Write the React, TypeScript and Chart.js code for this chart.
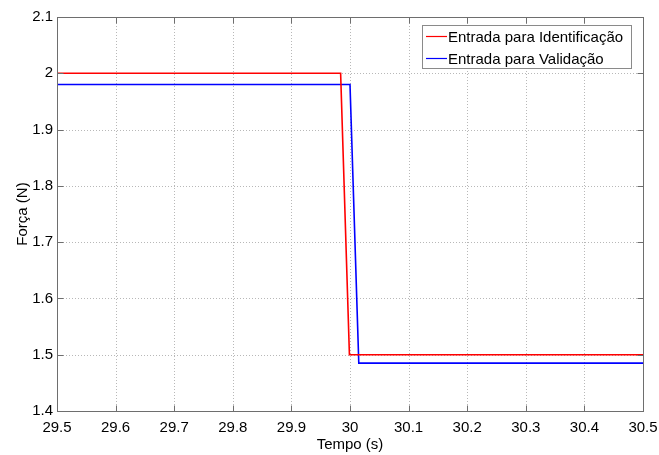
import React, { useEffect, useRef } from "react";
import { Chart, registerables } from "chart.js";

Chart.register(...registerables);

// Input force signals around the step at t = 30 s
const idTimes = [29.5, 29.984, 29.999, 30.5];
const idForces = [2.0, 2.0, 1.5, 1.5];

const valTimes = [29.5, 30.0, 30.015, 30.5];
const valForces = [1.98, 1.98, 1.485, 1.485];

const seriesLabels = ["Entrada para Identificação", "Entrada para Validação"];
const seriesColors = ["#ff0000", "#0000ff"];

const xTicks = [29.5, 29.6, 29.7, 29.8, 29.9, 30.0, 30.1, 30.2, 30.3, 30.4, 30.5];
const yTicks = [1.4, 1.5, 1.6, 1.7, 1.8, 1.9, 2.0, 2.1];

const FONT = "'Liberation Sans', Arial, Helvetica, sans-serif";

const toPoints = (xs: number[], ys: number[]) => xs.map((x, i) => ({ x, y: ys[i] }));

// Dotted grid, frame with inward ticks, and a boxed legend in the upper-right corner
const framePlugin = {
  id: "frame",
  beforeDatasetsDraw(chart: any) {
    const { ctx, chartArea: a, scales } = chart;
    const xs = scales.x;
    const ys = scales.y;
    ctx.save();
    ctx.lineWidth = 1;
    ctx.strokeStyle = "#b8b8b8";
    ctx.setLineDash([1, 2]);
    xTicks.forEach((v) => {
      const px = Math.round(xs.getPixelForValue(v)) + 0.5;
      if (px <= a.left + 1 || px >= a.right - 1) return;
      ctx.beginPath();
      ctx.moveTo(px, a.top);
      ctx.lineTo(px, a.bottom);
      ctx.stroke();
    });
    yTicks.forEach((v) => {
      const py = Math.round(ys.getPixelForValue(v)) + 0.5;
      if (py <= a.top + 1 || py >= a.bottom - 1) return;
      ctx.beginPath();
      ctx.moveTo(a.left, py);
      ctx.lineTo(a.right, py);
      ctx.stroke();
    });
    ctx.setLineDash([]);
    ctx.restore();
  },
  afterDatasetsDraw(chart: any) {
    const { ctx, chartArea: a, scales } = chart;
    const xs = scales.x;
    const ys = scales.y;
    const L = Math.round(a.left) + 0.5;
    const R = Math.round(a.right) + 0.5;
    const T = Math.round(a.top) + 0.5;
    const B = Math.round(a.bottom) + 0.5;
    ctx.save();
    ctx.lineWidth = 1;
    ctx.strokeStyle = "#6e6e6e";
    ctx.strokeRect(L, T, R - L, B - T);
    const tl = 6;
    ctx.beginPath();
    xTicks.forEach((v) => {
      const px = Math.round(xs.getPixelForValue(v)) + 0.5;
      ctx.moveTo(px, B);
      ctx.lineTo(px, B - tl);
      ctx.moveTo(px, T);
      ctx.lineTo(px, T + tl);
    });
    yTicks.forEach((v) => {
      const py = Math.round(ys.getPixelForValue(v)) + 0.5;
      ctx.moveTo(L, py);
      ctx.lineTo(L + tl, py);
      ctx.moveTo(R, py);
      ctx.lineTo(R - tl, py);
    });
    ctx.stroke();

    // legend
    const bx = 422.5;
    const by = 25.5;
    const bw = 209;
    const bh = 43;
    ctx.fillStyle = "#ffffff";
    ctx.fillRect(bx, by, bw, bh);
    ctx.strokeStyle = "#8a8a8a";
    ctx.strokeRect(bx, by, bw, bh);
    ctx.font = `15px ${FONT}`;
    ctx.textBaseline = "middle";
    ctx.textAlign = "left";
    seriesLabels.forEach((label, i) => {
      const cy = 36.5 + i * 22;
      ctx.strokeStyle = seriesColors[i];
      ctx.lineWidth = 1.2;
      ctx.beginPath();
      ctx.moveTo(426, cy);
      ctx.lineTo(447, cy);
      ctx.stroke();
      ctx.fillStyle = "#000000";
      ctx.fillText(label, 448, cy + 1);
    });
    ctx.restore();
  },
};

export default function App() {
  const canvasRef = useRef<HTMLCanvasElement | null>(null);

  useEffect(() => {
    if (!canvasRef.current) return;
    const chart = new Chart(canvasRef.current, {
      type: "line",
      data: {
        datasets: [
          {
            label: seriesLabels[0],
            data: toPoints(idTimes, idForces),
            borderColor: seriesColors[0],
            borderWidth: 1.6,
            pointRadius: 0,
            tension: 0,
          },
          {
            label: seriesLabels[1],
            data: toPoints(valTimes, valForces),
            borderColor: seriesColors[1],
            borderWidth: 1.6,
            pointRadius: 0,
            tension: 0,
          },
        ],
      },
      options: {
        responsive: false,
        animation: false,
        events: [],
        layout: { padding: { left: 0, top: 17, right: 16, bottom: 0 } },
        plugins: {
          legend: { display: false },
          tooltip: { enabled: false },
        },
        scales: {
          x: {
            type: "linear",
            min: 29.5,
            max: 30.5,
            border: { display: false },
            grid: { display: false, drawTicks: false },
            afterBuildTicks: (s: any) => {
              s.ticks = xTicks.map((v) => ({ value: v }));
            },
            afterFit: (s: any) => {
              s.height = 44;
              s.paddingLeft = 0;
              s.paddingRight = 0;
            },
            ticks: {
              autoSkip: false,
              maxRotation: 0,
              padding: 8,
              color: "#000000",
              font: { family: FONT, size: 15 },
              callback: (v: any) => String(Math.round(Number(v) * 10) / 10),
            },
            title: {
              display: true,
              text: "Tempo (s)",
              color: "#000000",
              font: { family: FONT, size: 15 },
              padding: { top: 0, bottom: 1 },
            },
          },
          y: {
            type: "linear",
            min: 1.4,
            max: 2.1,
            border: { display: false },
            grid: { display: false, drawTicks: false },
            afterBuildTicks: (s: any) => {
              s.ticks = yTicks.map((v) => ({ value: v }));
            },
            afterFit: (s: any) => {
              s.width = 57;
              s.paddingTop = 0;
              s.paddingBottom = 0;
            },
            ticks: {
              autoSkip: false,
              padding: 4,
              color: "#000000",
              font: { family: FONT, size: 15 },
              callback: (v: any) => String(Math.round(Number(v) * 10) / 10),
            },
            title: {
              display: true,
              text: "Força (N)",
              color: "#000000",
              font: { family: FONT, size: 15 },
              padding: { top: 14, bottom: 0 },
            },
          },
        },
      },
      plugins: [framePlugin],
    });
    return () => chart.destroy();
  }, []);

  return (
    <div style={{ position: "fixed", left: 0, top: 0, width: 659, height: 455, background: "#ffffff" }}>
      <canvas ref={canvasRef} width={659} height={455} />
    </div>
  );
}
